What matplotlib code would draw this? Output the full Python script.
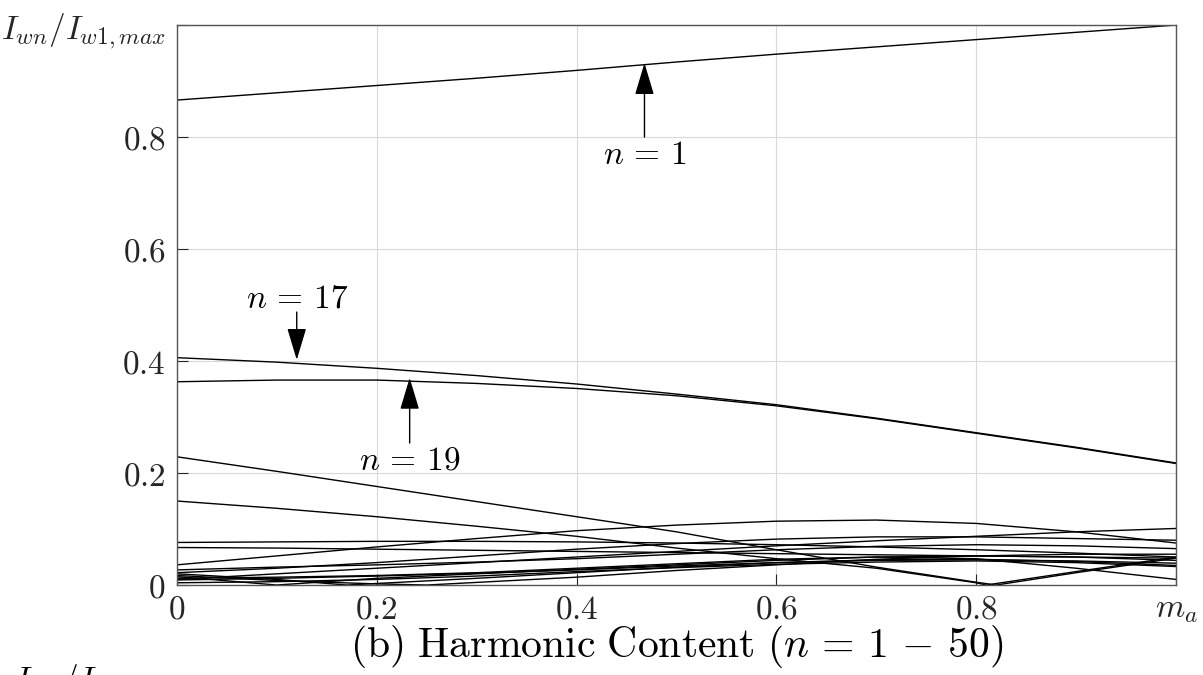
import matplotlib
matplotlib.use("Agg")
import matplotlib.pyplot as plt

plt.rcParams["mathtext.fontset"] = "cm"
plt.rcParams["font.family"] = ["DejaVu Serif"]

# sample positions for the smooth curves
x_grid = [0.0, 0.1, 0.2, 0.3, 0.4, 0.5, 0.6, 0.7, 0.8, 0.9, 1.0]

n1 = [0.866, 0.879, 0.892, 0.905, 0.919, 0.934, 0.948, 0.961, 0.974, 0.987, 1.0]
n17 = [0.406, 0.398, 0.387, 0.374, 0.359, 0.341, 0.322, 0.298, 0.272, 0.246, 0.218]
n19 = [0.363, 0.366, 0.366, 0.360, 0.351, 0.338, 0.320, 0.297, 0.271, 0.245, 0.217]

# lower harmonics, each with its own sample positions (some touch zero)
low_curves = [
    ([0, 0.1, 0.2, 0.3, 0.4, 0.5, 0.6, 0.7, 0.8, 0.82, 0.9, 1.0],
     [0.229, 0.203, 0.176, 0.149, 0.122, 0.095, 0.063, 0.032, 0.005, 0.0, 0.022, 0.048]),
    ([0, 0.1, 0.2, 0.3, 0.4, 0.5, 0.6, 0.7, 0.8, 0.81, 0.9, 1.0],
     [0.150, 0.137, 0.122, 0.105, 0.087, 0.066, 0.047, 0.030, 0.004, 0.0, 0.024, 0.050]),
    (x_grid, [0.076, 0.077, 0.078, 0.078, 0.077, 0.075, 0.072, 0.068, 0.063, 0.057, 0.050]),
    (x_grid, [0.067, 0.066, 0.064, 0.062, 0.060, 0.058, 0.056, 0.054, 0.052, 0.050, 0.048]),
    (x_grid, [0.036, 0.052, 0.068, 0.083, 0.097, 0.107, 0.114, 0.116, 0.110, 0.095, 0.075]),
    (x_grid, [0.010, 0.020, 0.030, 0.040, 0.050, 0.060, 0.070, 0.079, 0.087, 0.095, 0.101]),
    (x_grid, [0.022, 0.030, 0.040, 0.052, 0.064, 0.074, 0.082, 0.086, 0.086, 0.083, 0.080]),
    (x_grid, [0.027, 0.032, 0.036, 0.041, 0.047, 0.055, 0.063, 0.069, 0.072, 0.070, 0.065]),
    ([0, 0.1, 0.17, 0.3, 0.4, 0.5, 0.6, 0.7, 0.8, 0.9, 1.0],
     [0.020, 0.010, 0.0, 0.012, 0.022, 0.032, 0.040, 0.045, 0.046, 0.042, 0.035]),
    ([0, 0.1, 0.2, 0.3, 0.4, 0.5, 0.6, 0.7, 0.8, 0.9, 1.0],
     [0.015, 0.0, 0.012, 0.020, 0.028, 0.036, 0.044, 0.050, 0.052, 0.050, 0.044]),
    (x_grid, [0.009, 0.012, 0.016, 0.021, 0.027, 0.034, 0.040, 0.044, 0.045, 0.043, 0.039]),
    (x_grid, [0.004, 0.006, 0.010, 0.016, 0.024, 0.031, 0.037, 0.041, 0.043, 0.040, 0.033]),
    ([0, 0.1, 0.2, 0.25, 0.4, 0.5, 0.6, 0.7, 0.8, 0.9, 1.0],
     [0.017, 0.008, 0.002, 0.0, 0.014, 0.026, 0.036, 0.046, 0.052, 0.055, 0.055]),
    (x_grid, [0.012, 0.014, 0.017, 0.022, 0.030, 0.038, 0.046, 0.050, 0.047, 0.030, 0.010]),
]

x_ticks = [0, 0.2, 0.4, 0.6, 0.8, 1.0]
x_tick_labels = ["$0$", "$0.2$", "$0.4$", "$0.6$", "$0.8$", "$m_a$"]
y_ticks = [0, 0.2, 0.4, 0.6, 0.8, 1.0]
y_tick_labels = ["$0$", "$0.2$", "$0.4$", "$0.6$", "$0.8$", r"$I_{wn}/I_{w1,max}$"]

fig = plt.figure(figsize=(12.03, 6.75), dpi=100)
ax = fig.add_axes([0.147, 0.1333, 0.8306, 0.8296])

ax.plot(x_grid, n1, color="k", lw=1.0)
ax.plot(x_grid, n17, color="k", lw=1.0)
ax.plot(x_grid, n19, color="k", lw=1.0)
for xs, ys in low_curves:
    ax.plot(xs, ys, color="k", lw=1.0)

ax.set_xlim(0, 1)
ax.set_ylim(0, 1)
ax.set_xticks(x_ticks)
ax.set_xticklabels(x_tick_labels, fontsize=24)
ax.set_yticks(y_ticks)
ax.set_yticklabels(y_tick_labels, fontsize=24)
ax.tick_params(direction="in", length=8, width=0.8, colors="#262626", pad=8)
ax.tick_params(axis="x", pad=6)
ax.grid(True, color="#d9d9d9", lw=0.8)
for sp in ax.spines.values():
    sp.set_color("#555555")
    sp.set_linewidth(1.0)

# axis caption under the tick labels
fig.text(0.5624, 1 - 623 / 675, r"$\mathrm{(b)\ Harmonic\ Content\ }(n \,=\, 1 \,-\, 50)$",
         fontsize=30, ha="center", va="top")

arrow = dict(arrowstyle="-|>,head_length=1.0,head_width=0.3", color="k", lw=1.0,
             shrinkA=0, shrinkB=0, mutation_scale=20)
ax.annotate("", xy=(0.468, 0.932), xytext=(0.468, 0.80), arrowprops=arrow)
ax.text(0.468, 0.768, r"$n \,=\, 1$", fontsize=24, ha="center", va="center")
ax.annotate("", xy=(0.120, 0.402), xytext=(0.120, 0.4875), arrowprops=arrow)
ax.text(0.120, 0.5125, r"$n \,=\, 17$", fontsize=24, ha="center", va="center")
ax.annotate("", xy=(0.233, 0.370), xytext=(0.233, 0.2536), arrowprops=arrow)
ax.text(0.233, 0.223, r"$n \,=\, 19$", fontsize=24, ha="center", va="center")

# label of the next panel, cut by the bottom edge as in the source
fig.text(0.012, -0.022, r"$I_{wn}/I_{w1,max}$", fontsize=24, va="baseline", ha="left")

fig.savefig("out.png", dpi=100)
